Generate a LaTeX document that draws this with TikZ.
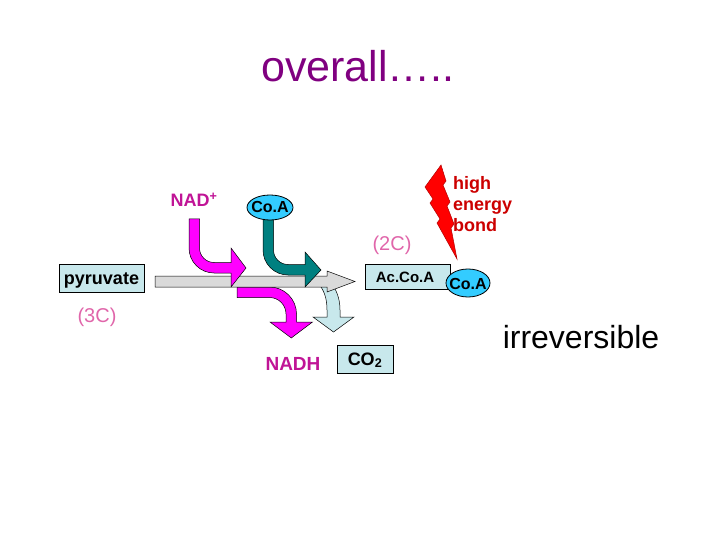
\documentclass[tikz,border=0pt]{standalone}
\usepackage{fontspec}
\setmainfont{Liberation Sans}
\definecolor{titlepurple}{RGB}{128,0,128}
\definecolor{nadtext}{RGB}{192,20,150}
\definecolor{magfill}{RGB}{255,0,255}
\definecolor{tealfill}{RGB}{0,128,128}
\definecolor{cyanfill}{RGB}{51,204,255}
\definecolor{lightcyan}{RGB}{200,232,236}
\definecolor{barfill}{RGB}{218,218,218}
\definecolor{pinktext}{RGB}{224,102,170}
\definecolor{boltred}{RGB}{255,0,0}
\definecolor{redtext}{RGB}{204,0,0}
\tikzset{
  lbl/.style={inner sep=0pt, anchor=base},
  boxlbl/.style={draw=black, line width=0.8pt, fill=lightcyan, minimum height=26pt, inner sep=0pt},
  coaell/.style={ellipse, draw=black, line width=0.8pt, fill=cyanfill, inner sep=0pt},
  shapeline/.style={draw=black, line width=0.5pt, line join=miter},
}
\usetikzlibrary{shapes.geometric}
\begin{document}
\begin{tikzpicture}[x=1pt,y=-1pt]
\useasboundingbox (0,0) rectangle (720,540);
% title
\node[lbl, text=titlepurple, font=\fontsize{43}{50}\selectfont] (title) at (358,82) {overall…..};

% light blue CO2 arrow (under bar)
\path[shapeline, fill=lightcyan] (318,283) .. controls (324,290) and (327,298) .. (327,310) -- (327,317) -- (313,317) -- (333.5,332) -- (354,317) -- (340,317) -- (340,310) .. controls (340,298) and (336,289) .. (331,283) -- cycle;
% NADH magenta arrow
\path[shapeline, fill=magfill] (237,287) -- (269.5,287) .. controls (284.4,287) and (296.5,299.1) .. (296.5,314) -- (296.5,322) -- (312.5,322) -- (291.25,338) -- (270,322) -- (286,322) -- (286,314) .. controls (286,304.9) and (278.6,297.5) .. (269.5,297.5) -- (237,297.5) -- cycle;
% main grey arrow
\path[shapeline, fill=barfill] (155,276) -- (327,276) -- (327,271) -- (355,281.5) -- (327,292) -- (327,287) -- (155,287) -- cycle;
% NAD+ magenta arrow
\path[shapeline, fill=magfill] (189,219) -- (199.5,219) -- (199.5,248) .. controls (199.5,256) and (206,262.5) .. (214,262.5) -- (231,262.5) -- (231,248) -- (246,268) -- (231,287) -- (231,273) -- (214,273) .. controls (200.2,273) and (189,261.8) .. (189,248) -- cycle;
% CoA teal arrow
\path[shapeline, fill=tealfill] (263,214) -- (273.5,214) -- (273.5,250) .. controls (273.5,258) and (280,264.5) .. (288,264.5) -- (305,264.5) -- (305,252) -- (321,270) -- (305,287) -- (305,275) -- (288,275) .. controls (274.2,275) and (263,263.8) .. (263,250) -- cycle;

% CoA ellipse top
\node[coaell, minimum width=46pt, minimum height=25pt] (coa1) at (270,207.5) {};
\node[lbl, font=\bfseries\fontsize{16}{19}\selectfont] (coa1t) at (270,213) {Co.A};

% NAD+
\node[lbl, text=nadtext, font=\bfseries\fontsize{18}{21}\selectfont] (nad) at (194,207) {NAD\textsuperscript{+}};

% pyruvate box
\node[boxlbl, minimum width=85pt, minimum height=28pt] (pyrbox) at (101.5,278) {};
\node[lbl, font=\bfseries\fontsize{18}{21}\selectfont] (pyr) at (101.5,284) {pyruvate};
\node[lbl, text=pinktext, font=\fontsize{20}{24}\selectfont] (c3) at (97,322) {(3C)};

% AcCoA box + CoA
\node[boxlbl, minimum width=85pt, minimum height=25pt] (acbox) at (407.5,276.5) {};
\node[lbl, font=\bfseries\fontsize{15}{18}\selectfont] (ac) at (405,282) {Ac.Co.A};
\node[coaell, minimum width=44pt, minimum height=28pt] (coa2) at (468,283) {};
\node[lbl, font=\bfseries\fontsize{16}{19}\selectfont] (coa2t) at (468,289) {Co.A};
\node[lbl, text=pinktext, font=\fontsize{20}{24}\selectfont] (c2) at (392,251) {(2C)};

% lightning bolt
\path[draw=red!70!black, line width=0.5pt, fill=boltred, line join=miter] (441,165) -- (425,187) -- (433,199) -- (430,203) -- (440,219) -- (437,223) -- (457,259) -- (451,228) -- (454,224) -- (447,206) -- (450,202) -- (443,185) -- (446,181) -- cycle;
\node[lbl, anchor=base west, text=redtext, font=\bfseries\fontsize{18}{21}\selectfont] (high) at (453,190) {high};
\node[lbl, anchor=base west, text=redtext, font=\bfseries\fontsize{18}{21}\selectfont] (energy) at (453,211) {energy};
\node[lbl, anchor=base west, text=redtext, font=\bfseries\fontsize{18}{21}\selectfont] (bond) at (453,232) {bond};

% products
\node[lbl, text=nadtext, font=\bfseries\fontsize{19}{22}\selectfont] (nadh) at (293,370) {NADH};
\node[boxlbl, minimum width=56pt, minimum height=28pt] (co2box) at (365,359) {};
\node[lbl, font=\bfseries\fontsize{18}{21}\selectfont] (co2) at (365,365) {CO\textsubscript{2}};

% irreversible
\node[lbl, font=\fontsize{32}{38}\selectfont] (irr) at (581,348) {irreversible};
\end{tikzpicture}
\end{document}
